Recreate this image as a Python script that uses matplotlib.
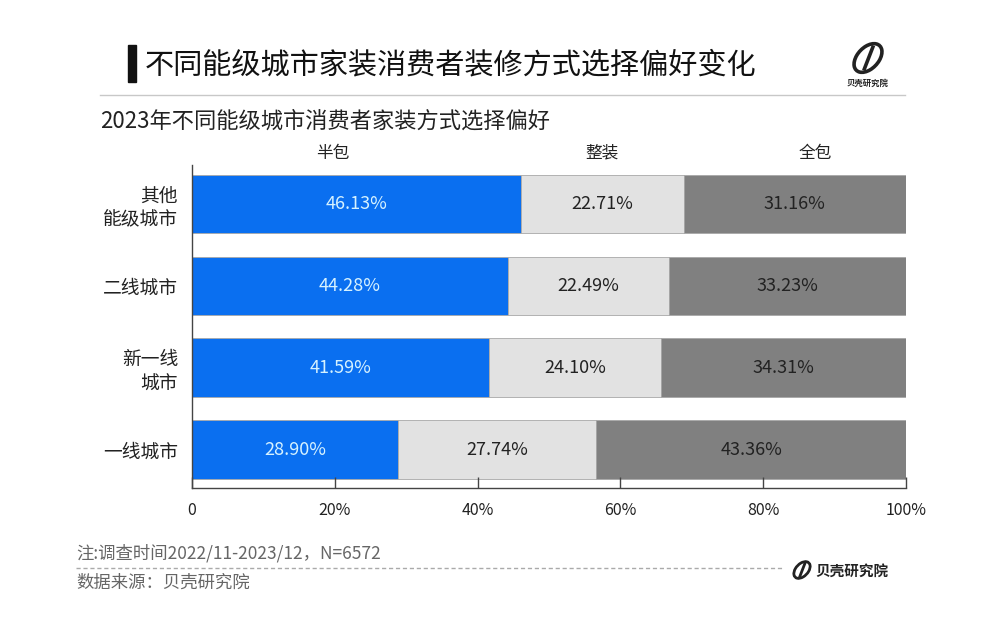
import matplotlib
matplotlib.use("Agg")
import matplotlib.pyplot as plt
from matplotlib.patches import Rectangle, Ellipse
from matplotlib.lines import Line2D

plt.rcParams['font.family'] = ['Noto Sans CJK SC', 'DejaVu Sans']

categories = ['一线城市', '新一线\n城市', '二线城市', '其他\n能级城市']
series_names = ['半包', '整装', '全包']
banbao = [28.90, 41.59, 44.28, 46.13]
zhengzhuang = [27.74, 24.10, 22.49, 22.71]
quanbao = [43.36, 34.31, 33.23, 31.16]
xticks = [0, 20, 40, 60, 80, 100]
xtick_labels = ['0', '20%', '40%', '60%', '80%', '100%']

title = '不同能级城市家装消费者装修方式选择偏好变化'
subtitle = '2023年不同能级城市消费者家装方式选择偏好'
note = '注:调查时间2022/11-2023/12，N=6572'
source = '数据来源：贝壳研究院'
brand = '贝壳研究院'

colors = ['#0a6ff0', '#e2e2e2', '#808080']
label_colors = ['#d6f2ff', '#222222', '#222222']

W, H = 994, 621
fig = plt.figure(figsize=(W / 100, H / 100), dpi=100)
fig.patch.set_facecolor('white')

def fx(px):
    return px / W

def fy(py):
    return 1 - py / H

ax = fig.add_axes([fx(192), fy(488), fx(906) - fx(192), fy(165) - fy(488)])

ypos = list(range(len(categories)))
left = [0] * len(categories)
for vals, c, lc in zip([banbao, zhengzhuang, quanbao], colors, label_colors):
    bars = ax.barh(ypos, vals, left=left, height=0.715, color=c,
                   edgecolor='#a8a8a8', linewidth=0.6)
    for b, v, l in zip(bars, vals, left):
        ax.text(l + v / 2, b.get_y() + b.get_height() / 2, f'{v:.2f}%',
                ha='center', va='center', fontsize=13, color=lc)
    left = [a + b for a, b in zip(left, vals)]

ax.set_xlim(0, 100)
ax.set_ylim(-0.47, 3.477)
ax.set_yticks(ypos)
ax.set_yticklabels(categories, fontsize=13.5, color='#222222', linespacing=1.2)
ax.set_xticks(xticks)
ax.set_xticklabels(xtick_labels, fontsize=11.5, color='#222222')
ax.tick_params(axis='x', direction='in', length=8, width=1, color='#444444', pad=10)
ax.tick_params(axis='y', length=0, pad=10)
for s in ['top', 'right']:
    ax.spines[s].set_visible(False)
ax.spines['left'].set_color('#444444')
ax.spines['bottom'].set_color('#444444')
ax.spines['left'].set_linewidth(1)
ax.spines['bottom'].set_linewidth(1)

# legend labels above
legend_x = [19.7, 57.4, 87.3]
for name, x in zip(series_names, legend_x):
    ax.text(x, 3.62, name, ha='center', va='center', fontsize=12, color='#222222')

# title
fig.patches.append(Rectangle((fx(128), fy(82)), fx(8), fy(45) - fy(82),
                             transform=fig.transFigure, color='#111111'))
fig.text(fx(145), fy(65), title, fontsize=21, color='#111111', va='center', ha='left')
fig.add_artist(Line2D([fx(100), fx(905)], [fy(95), fy(95)], color='#c8c8c8', lw=1))
fig.text(fx(100), fy(121), subtitle, fontsize=16, color='#222222', va='center', ha='left')

# logos
def logo(cx, cy, s, lw):
    e = Ellipse((fx(cx), fy(cy)), fx(s), fy(0) - fy(s * 1.25), angle=-20,
                transform=fig.transFigure, fill=False, ec='#222222', lw=lw)
    fig.add_artist(e)
    fig.add_artist(Line2D([fx(cx - s * 0.15), fx(cx + s * 0.2)],
                          [fy(cy + s * 0.45), fy(cy - s * 0.45)],
                          color='#222222', lw=lw))

logo(868, 58, 24, 2.6)
fig.text(fx(868), fy(83), brand, fontsize=6, color='#222222', ha='center', va='center',
         fontweight='bold')

# footer
fig.text(fx(76), fy(553), note, fontsize=12.5, color='#666666', va='center', ha='left')
fig.add_artist(Line2D([fx(76), fx(782)], [fy(568), fy(568)], color='#aaaaaa', lw=1,
                      linestyle=(0, (3, 2))))
fig.text(fx(76), fy(583), source, fontsize=12.5, color='#666666', va='center', ha='left')
logo(802, 570, 14, 2.0)
fig.text(fx(815), fy(571), brand, fontsize=10.5, color='#222222', ha='left', va='center',
         fontweight='bold')

fig.savefig('out.png', dpi=100, facecolor='white')
